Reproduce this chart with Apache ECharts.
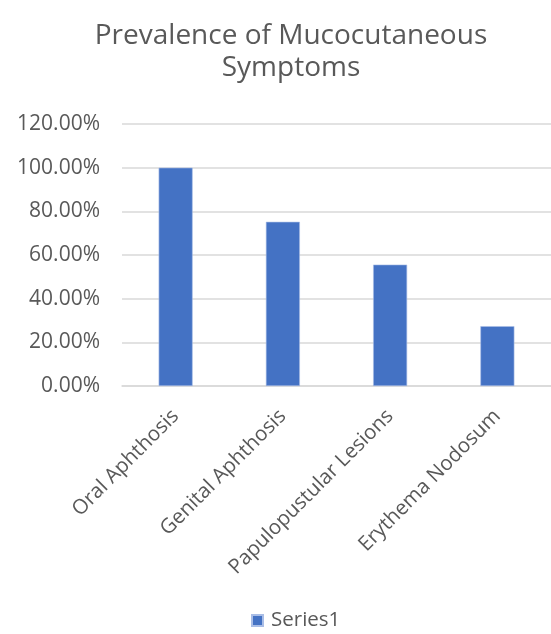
<!DOCTYPE html>
<html><head><meta charset="utf-8">
<script src="https://cdn.jsdelivr.net/npm/echarts@6/dist/echarts.min.js"></script>
<style>html,body{margin:0;padding:0;background:#fff}#c{width:551px;height:634px}</style>
</head><body><div id="c"></div>
<script>
const titleText = "Prevalence of Mucocutaneous\nSymptoms";
const categories = ["Oral Aphthosis", "Genital Aphthosis", "Papulopustular Lesions", "Erythema Nodosum"];
const seriesName = "Series1";
const values = [100, 75.2, 55.6, 27.4];
const yTicks = [0, 20, 40, 60, 80, 100, 120];

const font = "'Open Sans', Lato, sans-serif";
const chart = echarts.init(document.getElementById('c'));
chart.setOption({
  animation: false,
  title: {
    text: titleText, left: 286, textAlign: 'center', top: 15, itemGap: 0,
    textStyle: { fontFamily: font, fontSize: 28, fontWeight: 'normal', color: '#595959', lineHeight: 32 }
  },
  legend: {
    top: 605, left: 246, itemWidth: 11, itemHeight: 11, icon: 'rect', itemGap: 10,
    textStyle: { fontFamily: font, fontSize: 20.5, color: '#595959', padding: [0, 0, 0, 3] },
    data: [seriesName]
  },
  grid: { left: 122, top: 124, width: 435, height: 262, containLabel: false },
  xAxis: {
    type: 'category', data: categories,
    axisLine: { lineStyle: { color: '#d9d9d9', width: 1.5 } },
    axisTick: { show: false },
    axisLabel: { rotate: 45, interval: 0, margin: 27, fontFamily: font, fontSize: 20.5, color: '#595959' }
  },
  yAxis: {
    type: 'value', min: 0, max: 120, interval: 20,
    axisLine: { show: false }, axisTick: { show: false },
    splitLine: { lineStyle: { color: '#d9d9d9', width: 1.5 } },
    axisLabel: { margin: 22, fontFamily: font, fontSize: 21, color: '#595959',
      formatter: v => yTicks.includes(v) ? v.toFixed(2) + '%' : '' }
  },
  series: [{
    name: seriesName, type: 'bar', data: values, barWidth: 34,
    itemStyle: { color: '#4472c4', borderColor: '#a9bde6', borderWidth: 0.6 }
  }]
});
</script></body></html>
